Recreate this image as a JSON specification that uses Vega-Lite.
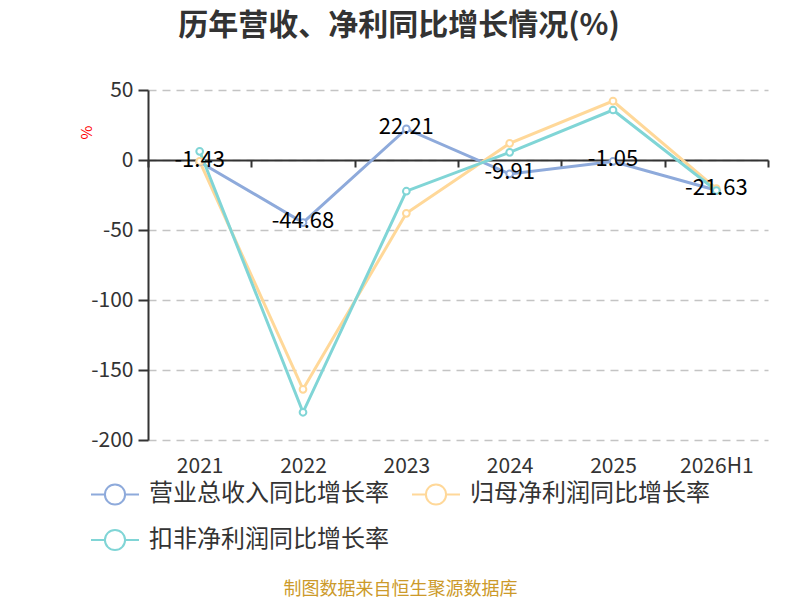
{
  "$schema": "https://vega.github.io/schema/vega-lite/v6.json",
  "autosize": {"type": "none"},
  "width": 620,
  "height": 350,
  "padding": {"left": 148, "top": 90, "right": 32, "bottom": 160},
  "background": "white",
  "config": {
    "font": "Noto Sans CJK SC",
    "view": {"stroke": null}
  },
  "title": {
    "text": "历年营收、净利同比增长情况(%)",
    "fontSize": 30,
    "fontWeight": "bold",
    "color": "#333333",
    "anchor": "middle",
    "dx": -59,
    "offset": 38
  },
  "data": {
    "values": [
      {"year": "2021", "series": "营业总收入同比增长率", "value": -1.43},
      {"year": "2022", "series": "营业总收入同比增长率", "value": -44.68},
      {"year": "2023", "series": "营业总收入同比增长率", "value": 22.21},
      {"year": "2024", "series": "营业总收入同比增长率", "value": -9.91},
      {"year": "2025", "series": "营业总收入同比增长率", "value": -1.05},
      {"year": "2026H1", "series": "营业总收入同比增长率", "value": -21.63},
      {"year": "2021", "series": "归母净利润同比增长率", "value": -1.0},
      {"year": "2022", "series": "归母净利润同比增长率", "value": -163.8},
      {"year": "2023", "series": "归母净利润同比增长率", "value": -38.1},
      {"year": "2024", "series": "归母净利润同比增长率", "value": 11.9},
      {"year": "2025", "series": "归母净利润同比增长率", "value": 42.1},
      {"year": "2026H1", "series": "归母净利润同比增长率", "value": -20.5},
      {"year": "2021", "series": "扣非净利润同比增长率", "value": 6.2},
      {"year": "2022", "series": "扣非净利润同比增长率", "value": -180.2},
      {"year": "2023", "series": "扣非净利润同比增长率", "value": -22.3},
      {"year": "2024", "series": "扣非净利润同比增长率", "value": 5.5},
      {"year": "2025", "series": "扣非净利润同比增长率", "value": 35.7},
      {"year": "2026H1", "series": "扣非净利润同比增长率", "value": -21.8}
    ]
  },
  "encoding": {
    "x": {
      "field": "year",
      "type": "ordinal",
      "sort": null,
      "scale": {"paddingInner": 0, "paddingOuter": 0},
      "axis": {
        "orient": "bottom",
        "offset": -280,
        "labelAngle": 0,
        "labelFontSize": 21,
        "labelColor": "#333333",
        "labelPadding": 288,
        "domainColor": "#333333",
        "domainWidth": 2,
        "tickColor": "#333333",
        "tickWidth": 2,
        "tickSize": 7,
        "tickBand": "extent",
        "title": "制图数据来自恒生聚源数据库",
        "titleColor": "#cc9a2a",
        "titleFontSize": 18,
        "titleFontWeight": "normal",
        "titleX": 252,
        "titleY": 434,
        "titleAlign": "center",
        "titleBaseline": "alphabetic"
      }
    },
    "y": {
      "field": "value",
      "type": "quantitative",
      "scale": {"domain": [-200, 50], "nice": false, "zero": false},
      "axis": {
        "values": [-200, -150, -100, -50, 0, 50],
        "labelExpr": "'' + datum.value",
        "labelFontSize": 21,
        "labelColor": "#333333",
        "labelPadding": 5,
        "domainColor": "#333333",
        "domainWidth": 2,
        "tickColor": "#333333",
        "tickWidth": 2,
        "tickSize": 10,
        "grid": true,
        "gridColor": "#c4c4c4",
        "gridDash": [8, 6],
        "gridWidth": 1.5,
        "title": "%",
        "titleColor": "#ff0000",
        "titleFontSize": 15,
        "titleFontWeight": "normal",
        "titleX": -62,
        "titleY": 42,
        "titleAngle": 270,
        "titleAlign": "center",
        "titleBaseline": "middle"
      }
    }
  },
  "layer": [
    {
      "mark": {
        "type": "line",
        "strokeWidth": 3,
        "point": {"filled": false, "fill": "white", "size": 45, "strokeWidth": 2}
      },
      "encoding": {
        "color": {
          "field": "series",
          "type": "nominal",
          "scale": {
            "domain": ["营业总收入同比增长率", "归母净利润同比增长率", "扣非净利润同比增长率"],
            "range": ["#8eaadb", "#ffd899", "#80d5d6"]
          },
          "legend": {
            "orient": "none",
            "legendX": -58,
            "legendY": 379,
            "direction": "horizontal",
            "columns": 2,
            "title": null,
            "padding": 0,
            "symbolType": "M-1,0L-0.42,0M0.42,0L1,0M0.42,0A0.42,0.42,0,1,1,-0.42,0A0.42,0.42,0,1,1,0.42,0",
            "symbolSize": 2304,
            "symbolStrokeWidth": 2,
            "symbolFillColor": "white",
            "labelFontSize": 24,
            "labelColor": "#333333",
            "labelOffset": 9,
            "columnPadding": 19,
            "rowPadding": 6,
            "labelLimit": 400
          }
        }
      }
    },
    {
      "transform": [
        {"filter": "datum.series === '营业总收入同比增长率'"},
        {"calculate": "replace(format(datum.value, '.2f'), '\u2212', '-')", "as": "label"}
      ],
      "mark": {"type": "text", "fontSize": 22, "color": "#000000", "baseline": "middle", "align": "center", "dy": -2},
      "encoding": {
        "text": {"field": "label", "type": "nominal"}
      }
    }
  ]
}
